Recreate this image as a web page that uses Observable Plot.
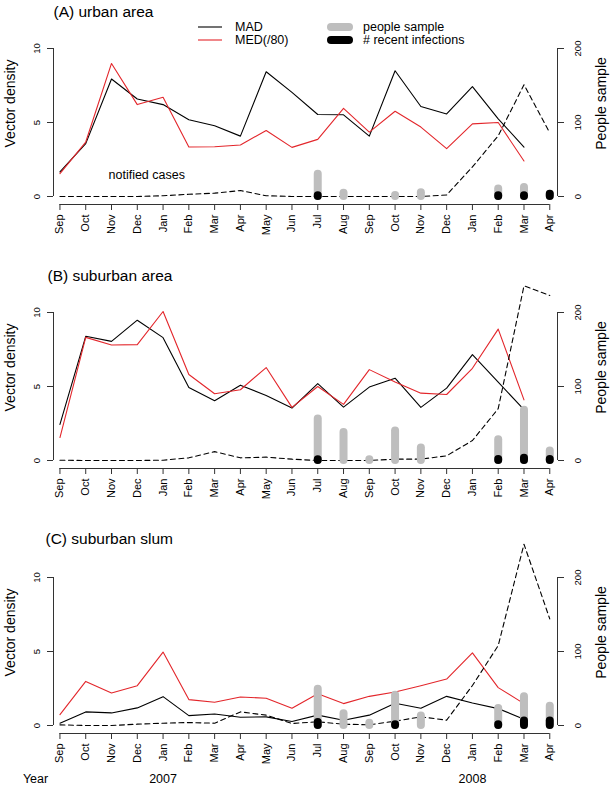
<!DOCTYPE html>
<html><head><meta charset="utf-8">
<script src="https://cdn.jsdelivr.net/npm/d3@7"></script>
<script src="https://cdn.jsdelivr.net/npm/@observablehq/plot@0.6"></script>
<style>
body{margin:0;background:#fff;}
#wrap{position:relative;width:612px;height:786px;overflow:hidden;background:#fff;}
.panel{position:absolute;left:0;}
#legend{position:absolute;left:0;top:0;pointer-events:none;}
</style></head><body><div id="wrap"></div>
<script>
// ---------- data ----------
const months = ["Sep","Oct","Nov","Dec","Jan","Feb","Mar","Apr","May","Jun","Jul","Aug","Sep","Oct","Nov","Dec","Jan","Feb","Mar","Apr"];
const yearLabels = ["2007","2008"];      // placed at each January
const yearAxisTitle = "Year";
const leftTicks = [0, 5, 10];
const rightTicks = [0, 100, 200];
const leftTitle = "Vector density";
const rightTitle = "People sample";
const seriesNames = ["MAD", "MED(/80)", "people sample", "# recent infections"];
const noteLabel = "notified cases";
const panelTitles = ["(A) urban area", "(B) suburban area", "(C) suburban slum"];

// (A) urban area
const madA    = [1.66,3.57,7.94,6.59,6.21,5.18,4.78,4.08,8.43,7.04,5.54,5.52,4.08,8.50,6.08,5.58,7.42,5.25,3.34,null];
const medA    = [1.55,3.68,8.99,6.21,6.70,3.34,3.36,3.48,4.46,3.32,3.86,5.96,4.35,5.76,4.69,3.23,4.91,5.00,2.40,null];
const casesA  = [0,0,0,0,1,3,4.5,8,1,0,0,0,0,0,0,2,40,82,151,86];
const sampleA = [null,null,null,null,null,null,null,null,null,null,30,4.5,null,1.5,5,null,null,10,12,3];
const recentA = [null,null,null,null,null,null,null,null,null,null,1,null,null,null,null,null,null,1,1,3];

// (B) suburban area
const madB    = [2.44,8.39,8.05,9.48,8.30,4.93,4.04,5.09,4.39,3.54,5.20,3.61,4.96,5.56,3.59,4.89,7.15,5.29,3.43,null];
const medB    = [1.55,8.32,7.80,7.83,10.07,5.81,4.51,4.78,6.28,3.59,5.00,3.79,6.14,5.31,4.55,4.46,6.23,8.88,4.10,null];
const casesB  = [0.4,0,0,0,0.4,3.6,12,3.6,4.5,1.8,0,0,0,1.8,1.8,6.3,27,70,236,223];
const sampleB = [null,null,null,null,null,null,null,null,null,null,56,38,1,40,17,null,null,28,68,13];
const recentB = [null,null,null,null,null,null,null,null,null,null,1,null,null,null,null,null,null,1.5,3,1.5];

// (C) suburban slum
const madC    = [0.16,0.92,0.85,1.19,1.95,0.67,0.78,0.56,0.58,0.27,0.70,0.36,0.70,1.50,1.17,1.97,1.52,1.14,0.43,null];
const medC    = [0.74,2.98,2.20,2.69,4.96,1.75,1.57,1.93,1.84,1.17,2.15,1.48,1.97,2.26,2.69,3.14,4.91,2.56,1.48,null];
const casesC  = [0.9,0,0,1.8,3.1,4,3.1,18.4,14,2.7,5,1.8,0.9,5.8,11.7,7.2,54,108,245,144];
const sampleC = [null,null,null,null,null,null,null,null,null,null,49,16,3,41,13,null,null,23,39,26];
const recentC = [null,null,null,null,null,null,null,null,null,null,4,null,null,1,null,null,null,1,6,6];

// ---------- layout ----------
const FONT = '"Liberation Sans", Arial, Helvetica, sans-serif';
const W = 612;
const frameTop = 2, frameBottom = 204, zeroY = 196, topTickY = 48;
const frameLeft = 53, frameRight = 557;
const leftMax = leftTicks[leftTicks.length - 1];
const ratio = rightTicks[rightTicks.length - 1] / leftMax;
const pxPerUnit = (zeroY - topTickY) / leftMax;
const yDomain = [-(frameBottom - zeroY) / pxPerUnit, (zeroY - frameTop) / pxPerUnit];
const xDomain = [-0.25, months.length - 1 + 0.3];
const RED = "#e3262b", GREY = "#bebebe", AXIS = "#333";

function panel({title, titleDx, titleDy, mad, med, cases, sample, recent, height, note, years}) {
  const rows = months.map((m, i) => ({i, mad: mad[i], med: med[i], cases: cases[i] == null ? null : cases[i] / ratio}));
  const samp = months.map((m, i) => ({i, v: sample[i]})).filter(d => d.v != null);
  const rec = months.map((m, i) => ({i, v: recent[i]})).filter(d => d.v != null);
  const rightLabels = leftTicks.map((t, k) => ({t, label: String(rightTicks[k])}));
  const marks = [
    Plot.ruleY([yDomain[0]], {x1: 0, x2: months.length - 1, stroke: AXIS}),
    Plot.ruleX([xDomain[0]], {y1: leftTicks[0], y2: leftMax, stroke: AXIS}),
    Plot.ruleX([xDomain[1]], {y1: leftTicks[0], y2: leftMax, stroke: AXIS}),
    Plot.axisX({ticks: d3.range(months.length), tickFormat: i => months[i], tickRotate: -90,
                tickSize: 6, tickPadding: 4, fontSize: 11, label: null, stroke: AXIS, fill: "black"}),
    Plot.axisY({ticks: leftTicks, tickSize: 6, tickFormat: () => "", label: null, stroke: AXIS}),
    Plot.axisY({anchor: "right", ticks: leftTicks, tickFormat: () => "", tickSize: 6, label: null, stroke: AXIS}),
    Plot.text(leftTicks, {y: d => d, text: d => String(d), frameAnchor: "left", rotate: -90,
                          textAnchor: "middle", lineAnchor: "middle", dx: -17, fontSize: 9.5}),
    Plot.text(rightLabels, {y: "t", text: "label", frameAnchor: "right", rotate: -90,
                          textAnchor: "middle", lineAnchor: "middle", dx: 20.5, fontSize: 9.5}),
    Plot.lineY(rows, {x: "i", y: "mad", stroke: "black", strokeWidth: 1.1}),
    Plot.lineY(rows, {x: "i", y: "med", stroke: RED, strokeWidth: 1.1}),
    Plot.lineY(rows, {x: "i", y: "cases", stroke: "black", strokeWidth: 1.1, strokeDasharray: "5,3.5"}),
    Plot.ruleX(samp, {x: "i", y1: 0, y2: d => d.v / ratio, stroke: GREY, strokeWidth: 8, strokeLinecap: "round"}),
    Plot.ruleX(rec, {x: "i", y1: 0, y2: d => d.v / ratio, stroke: "black", strokeWidth: 8, strokeLinecap: "round"}),
    Plot.text([title], {frameAnchor: "top-left", textAnchor: "start", lineAnchor: "bottom", dx: titleDx, dy: titleDy, fontSize: 15.5}),
    Plot.text([leftTitle], {frameAnchor: "left", rotate: -90, textAnchor: "middle", lineAnchor: "middle", dx: -43, fontSize: 14}),
    Plot.text([rightTitle], {frameAnchor: "right", rotate: -90, textAnchor: "middle", lineAnchor: "middle", dx: 44, fontSize: 14})
  ];
  if (note) marks.push(Plot.text([noteLabel], {frameAnchor: "bottom-left", textAnchor: "start", lineAnchor: "middle", dx: 55, dy: -29.5, fontSize: 12.5}));
  if (years) {
    const jan = months.map((m, i) => i).filter(i => months[i] === "Jan");
    const yrs = yearLabels.map((y, k) => ({i: jan[k], label: y}));
    marks.push(Plot.text(yrs, {x: "i", text: "label", frameAnchor: "bottom", lineAnchor: "middle", dy: 45, fontSize: 12.5}));
    marks.push(Plot.text([yearAxisTitle], {frameAnchor: "bottom-left", textAnchor: "middle", lineAnchor: "middle", dx: -18, dy: 45, fontSize: 12.5}));
  }
  return Plot.plot({
    width: W, height,
    marginTop: frameTop, marginBottom: height - frameBottom,
    marginLeft: frameLeft, marginRight: W - frameRight,
    x: {domain: xDomain},
    y: {domain: yDomain},
    style: {fontFamily: FONT, background: "transparent", overflow: "visible", color: "black"},
    marks
  });
}

const wrap = document.getElementById("wrap");
const specs = [
  {top: 0,   height: 264, title: panelTitles[0], titleDx: 0,  titleDy: 14,   mad: madA, med: medA, cases: casesA, sample: sampleA, recent: recentA, note: true},
  {top: 264, height: 264, title: panelTitles[1], titleDx: -6, titleDy: 14.5, mad: madB, med: medB, cases: casesB, sample: sampleB, recent: recentB},
  {top: 529, height: 257, title: panelTitles[2], titleDx: -8, titleDy: 12.5, mad: madC, med: medC, cases: casesC, sample: sampleC, recent: recentC, years: true}
];
for (const s of specs) {
  const div = document.createElement("div");
  div.className = "panel";
  div.style.top = s.top + "px";
  div.appendChild(panel(s));
  wrap.appendChild(div);
}

// ---------- legend (added above panel A) ----------
const ns = "http://www.w3.org/2000/svg";
const lg = document.createElementNS(ns, "svg");
lg.setAttribute("id", "legend"); lg.setAttribute("width", W); lg.setAttribute("height", 50);
const items = [
  {x1: 198, x2: 222, y: 27, stroke: "black", sw: 1.1, cap: "butt", tx: 235, label: seriesNames[0]},
  {x1: 198, x2: 222, y: 40, stroke: RED, sw: 1.1, cap: "butt", tx: 235, label: seriesNames[1]},
  {x1: 331, x2: 349, y: 27, stroke: GREY, sw: 8, cap: "round", tx: 363, label: seriesNames[2]},
  {x1: 331, x2: 349, y: 40, stroke: "black", sw: 8, cap: "round", tx: 363, label: seriesNames[3]}
];
for (const it of items) {
  const l = document.createElementNS(ns, "line");
  l.setAttribute("x1", it.x1); l.setAttribute("x2", it.x2);
  l.setAttribute("y1", it.y); l.setAttribute("y2", it.y);
  l.setAttribute("stroke", it.stroke); l.setAttribute("stroke-width", it.sw);
  l.setAttribute("stroke-linecap", it.cap);
  lg.appendChild(l);
  const t = document.createElementNS(ns, "text");
  t.setAttribute("x", it.tx); t.setAttribute("y", it.y + 4.3);
  t.setAttribute("font-family", FONT); t.setAttribute("font-size", 12.5);
  t.textContent = it.label;
  lg.appendChild(t);
}
wrap.appendChild(lg);
</script></body></html>
